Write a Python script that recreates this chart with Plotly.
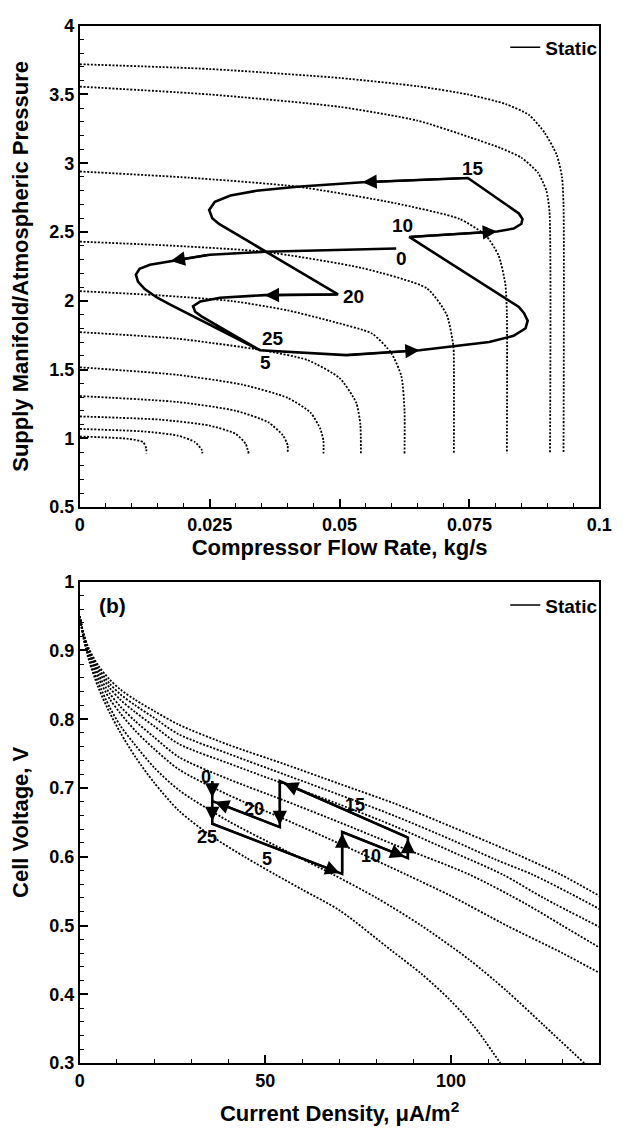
import plotly.graph_objects as go

FONT = "Liberation Sans, Arial, Helvetica, sans-serif"

# ---------------- Panel (a): compressor map ----------------
flow_tick_vals = [0, 0.025, 0.05, 0.075, 0.1]
flow_tick_text = ["0", "0.025", "0.05", "0.075", "0.1"]
pr_tick_vals = [0.5, 1, 1.5, 2, 2.5, 3, 3.5, 4]
pr_tick_text = ["0.5", "1", "1.5", "2", "2.5", "3", "3.5", "4"]

# static compressor speed lines (flow kg/s, pressure ratio)
speed_flow = [
    [0, 0.025, 0.05, 0.065, 0.0747, 0.082, 0.0865, 0.0895, 0.0918, 0.0928, 0.0931, 0.0931],
    [0, 0.025, 0.05, 0.065, 0.075, 0.081, 0.085, 0.0882, 0.0898, 0.0904, 0.0905],
    [0, 0.021, 0.0418, 0.0606, 0.0731, 0.0781, 0.0806, 0.0819, 0.0822, 0.0822],
    [0, 0.018, 0.0356, 0.0544, 0.0668, 0.0706, 0.0719, 0.072, 0.072],
    [0, 0.015, 0.0293, 0.04, 0.048, 0.0563, 0.060, 0.0619, 0.0625, 0.0625],
    [0, 0.0188, 0.035, 0.0438, 0.050, 0.0532, 0.054, 0.0541],
    [0, 0.0188, 0.0313, 0.040, 0.0444, 0.0463, 0.0469, 0.0469],
    [0, 0.0188, 0.030, 0.0363, 0.0391, 0.040, 0.040],
    [0, 0.0156, 0.025, 0.030, 0.0319, 0.0325],
    [0, 0.0125, 0.0188, 0.0222, 0.0235, 0.0236],
    [0, 0.0094, 0.0122, 0.0128, 0.0128],
]
speed_pr = [
    [3.72, 3.685, 3.62, 3.56, 3.50, 3.43, 3.35, 3.22, 3.06, 2.9, 2.7, 0.89],
    [3.557, 3.50, 3.41, 3.31, 3.19, 3.11, 3.04, 2.93, 2.8, 2.65, 0.89],
    [2.94, 2.895, 2.83, 2.71, 2.595, 2.476, 2.33, 2.12, 1.9, 0.89],
    [2.43, 2.40, 2.356, 2.237, 2.09, 1.90, 1.67, 1.5, 0.89],
    [2.07, 2.04, 1.998, 1.93, 1.855, 1.76, 1.617, 1.45, 1.2, 0.89],
    [1.772, 1.724, 1.641, 1.569, 1.438, 1.259, 1.1, 0.89],
    [1.516, 1.461, 1.390, 1.294, 1.187, 1.068, 0.98, 0.89],
    [1.307, 1.264, 1.200, 1.116, 1.021, 0.95, 0.89],
    [1.159, 1.135, 1.092, 1.032, 0.961, 0.89],
    [1.068, 1.049, 1.020, 0.972, 0.913, 0.89],
    [1.013, 0.996, 0.972, 0.925, 0.89],
]

# dynamic trajectory (time 0 -> 25 s)
traj_a_flow = [0.0609, 0.0356, 0.025, 0.0175, 0.0135, 0.0115, 0.0108, 0.0112, 0.0125, 0.0150,
               0.0175, 0.0347, 0.0513, 0.0654, 0.0788, 0.0835, 0.0858, 0.0862, 0.0855, 0.0845,
               0.0634, 0.0803, 0.0835, 0.0850, 0.0852, 0.0845, 0.0832, 0.0747, 0.0544, 0.0418,
               0.0340, 0.0290, 0.0260, 0.0249, 0.0255, 0.0268, 0.0497, 0.0356, 0.0270, 0.0232,
               0.0218, 0.0222, 0.0235, 0.0347]
traj_a_pr = [2.380, 2.356, 2.335, 2.29, 2.262, 2.232, 2.19, 2.14, 2.085, 2.02,
             1.97, 1.64, 1.605, 1.64, 1.70, 1.745, 1.80, 1.855, 1.91, 1.955,
             2.464, 2.504, 2.525, 2.56, 2.595, 2.635, 2.67, 2.893, 2.862, 2.829,
             2.80, 2.765, 2.72, 2.66, 2.60, 2.559, 2.046, 2.041, 2.022, 1.995,
             1.96, 1.92, 1.885, 1.64]
# arrow heads on the trajectory: tip and tail (direction)
arrow_a_tip_flow = [0.0175, 0.0654, 0.0803, 0.0544, 0.0356]
arrow_a_tip_pr = [2.29, 1.64, 2.504, 2.862, 2.041]
arrow_a_tail_flow = [0.025, 0.0513, 0.0634, 0.0747, 0.0497]
arrow_a_tail_pr = [2.335, 1.605, 2.464, 2.893, 2.046]
# time labels
time_labels_a = ["15", "10", "0", "20", "25", "5"]
time_label_a_flow = [0.0756, 0.0622, 0.0619, 0.0527, 0.0372, 0.0358]
time_label_a_pr = [2.965, 2.547, 2.304, 2.034, 1.724, 1.55]

# ---------------- Panel (b): polarization curves ----------------
cd_tick_vals = [0, 50, 100]
cd_tick_text = ["0", "50", "100"]
v_tick_vals = [0.3, 0.4, 0.5, 0.6, 0.7, 0.8, 0.9, 1.0]
v_tick_text = ["0.3", "0.4", "0.5", "0.6", "0.7", "0.8", "0.9", "1"]

pol_current = [
    [0, 1, 2.5, 5, 8, 11, 15, 20, 26.7, 40, 55, 70, 85, 100, 115, 129.6, 140],
    [0, 1, 2.5, 5, 8, 11, 15, 20, 26.7, 40, 55, 70, 85, 100, 112, 122, 132, 140],
    [0, 1, 2.5, 5, 8, 11, 15, 20, 26.7, 40, 55, 70, 85, 100, 114, 125, 140],
    [0, 1, 2.5, 5, 8, 11, 15, 20, 26.7, 40, 55, 70, 85, 105, 120, 130, 140],
    [0, 1, 2.5, 5, 8, 11, 15, 20, 26.7, 40, 55, 70, 88, 100, 115, 130, 140],
    [0, 1, 2.5, 5, 8, 11, 15, 20, 26.7, 40, 55, 68.3, 80, 92, 105, 115, 125, 135.9],
    [0, 1, 2.5, 5, 8, 11, 15, 20, 26.7, 35.5, 45, 52.7, 60, 70, 83.9, 92, 99.5, 106, 113.3],
]
pol_voltage = [
    [0.95, 0.925, 0.902, 0.878, 0.858, 0.843, 0.828, 0.812, 0.792, 0.763, 0.735, 0.706, 0.677, 0.644, 0.61, 0.574, 0.543],
    [0.95, 0.924, 0.90, 0.874, 0.852, 0.836, 0.82, 0.802, 0.778, 0.75, 0.72, 0.69, 0.659, 0.625, 0.596, 0.574, 0.547, 0.524],
    [0.95, 0.923, 0.898, 0.87, 0.846, 0.828, 0.81, 0.79, 0.764, 0.736, 0.706, 0.676, 0.644, 0.608, 0.574, 0.54, 0.498],
    [0.95, 0.922, 0.896, 0.865, 0.838, 0.818, 0.797, 0.774, 0.745, 0.713, 0.682, 0.65, 0.617, 0.574, 0.532, 0.50, 0.468],
    [0.95, 0.921, 0.893, 0.86, 0.83, 0.808, 0.783, 0.757, 0.727, 0.69, 0.655, 0.619, 0.574, 0.543, 0.50, 0.46, 0.431],
    [0.95, 0.919, 0.888, 0.853, 0.818, 0.79, 0.762, 0.73, 0.697, 0.652, 0.61, 0.574, 0.54, 0.50, 0.45, 0.405, 0.355, 0.3],
    [0.95, 0.918, 0.885, 0.846, 0.81, 0.78, 0.745, 0.708, 0.667, 0.63, 0.598, 0.574, 0.552, 0.522, 0.464, 0.43, 0.393, 0.355, 0.3],
]

traj_b_current = [35.7, 35.7, 70.7, 70.7, 88.4, 88.4, 53.9, 53.9, 35.7, 35.7]
traj_b_voltage = [0.710, 0.648, 0.575, 0.636, 0.598, 0.628, 0.710, 0.643, 0.681, 0.648]
arrow_b_tip_current = [35.7, 35.7, 70.0, 70.7, 87.5, 88.4, 55.0, 53.9, 36.4]
arrow_b_tip_voltage = [0.686, 0.652, 0.5765, 0.634, 0.600, 0.626, 0.707, 0.646, 0.680]
arrow_b_tail_current = [35.7, 35.7, 35.7, 70.7, 70.7, 88.4, 88.4, 53.9, 53.9]
arrow_b_tail_voltage = [0.710, 0.675, 0.648, 0.575, 0.636, 0.598, 0.628, 0.710, 0.643]
time_labels_b = ["0", "20", "15", "10", "5", "25"]
time_label_b_current = [34.0, 46.9, 74.2, 78.6, 50.5, 34.4]
time_label_b_voltage = [0.716, 0.670, 0.675, 0.601, 0.596, 0.629]

# ---------------- Figure ----------------
W, H = 625, 1130
fig = go.Figure()

dotted = dict(color="black", width=1.8, dash="2px,1.6px")

for fx, fy in zip(speed_flow, speed_pr):
    fig.add_trace(go.Scatter(x=fx, y=fy, mode="lines", line=dict(shape="spline", smoothing=0.6, **dotted),
                             showlegend=False, hoverinfo="skip", xaxis="x", yaxis="y"))
fig.add_trace(go.Scatter(x=traj_a_flow, y=traj_a_pr, mode="lines", line=dict(color="black", width=2.6),
                         showlegend=False, xaxis="x", yaxis="y"))
fig.add_trace(go.Scatter(x=[None], y=[None], mode="lines", line=dict(color="black", width=1.5),
                         name="Static", legend="legend", xaxis="x", yaxis="y"))

for cx, cy in zip(pol_current, pol_voltage):
    fig.add_trace(go.Scatter(x=cx, y=cy, mode="lines", line=dict(shape="spline", smoothing=0.8, **dotted),
                             showlegend=False, hoverinfo="skip", xaxis="x2", yaxis="y2"))
fig.add_trace(go.Scatter(x=traj_b_current, y=traj_b_voltage, mode="lines", line=dict(color="black", width=2.6),
                         showlegend=False, xaxis="x2", yaxis="y2"))
fig.add_trace(go.Scatter(x=[None], y=[None], mode="lines", line=dict(color="black", width=1.5),
                         name="Static", legend="legend2", xaxis="x2", yaxis="y2"))

annotations = []
lab_font_a = dict(family=FONT, size=19, color="black", weight="bold")
lab_font_b = dict(family=FONT, size=18, color="black", weight="bold")
for tx, ty, ax, ay in zip(arrow_a_tip_flow, arrow_a_tip_pr, arrow_a_tail_flow, arrow_a_tail_pr):
    annotations.append(dict(x=tx, y=ty, ax=ax, ay=ay, xref="x", yref="y", axref="x", ayref="y",
                            text="", showarrow=True, arrowhead=2, arrowsize=1.3, arrowwidth=2.2,
                            arrowcolor="black", standoff=0))
for t, x, y in zip(time_labels_a, time_label_a_flow, time_label_a_pr):
    annotations.append(dict(x=x, y=y, xref="x", yref="y", text=t, showarrow=False, font=lab_font_a))
for tx, ty, ax, ay in zip(arrow_b_tip_current, arrow_b_tip_voltage, arrow_b_tail_current, arrow_b_tail_voltage):
    annotations.append(dict(x=tx, y=ty, ax=ax, ay=ay, xref="x2", yref="y2", axref="x2", ayref="y2",
                            text="", showarrow=True, arrowhead=2, arrowsize=1.3, arrowwidth=2.2,
                            arrowcolor="black", standoff=0))
for t, x, y in zip(time_labels_b, time_label_b_current, time_label_b_voltage):
    annotations.append(dict(x=x, y=y, xref="x2", yref="y2", text=t, showarrow=False, font=lab_font_b))
annotations.append(dict(x=0.034, y=0.951, xref="x2 domain", yref="y2 domain", text="(b)",
                        showarrow=False, xanchor="left", yanchor="middle",
                        font=dict(family=FONT, size=21, color="black", weight="bold")))

tick_font = dict(family=FONT, size=18, color="black", weight="bold")
title_font = dict(family=FONT, size=22, color="black", weight="bold")


def axis_style(**kw):
    d = dict(showline=True, linewidth=2, linecolor="black", mirror=True, ticks="inside", ticklen=8,
             tickwidth=1.6, tickcolor="black", showgrid=False, zeroline=False, tickfont=tick_font,
             tickmode="array", fixedrange=True)
    d.update(kw)
    return d


xdom = [77 / W, 612 / W]
fig.update_layout(
    width=W, height=H, margin=dict(l=0, r=0, t=0, b=0),
    paper_bgcolor="white", plot_bgcolor="white",
    xaxis=axis_style(domain=xdom, range=[0, 0.1], anchor="y", tickvals=flow_tick_vals, ticktext=flow_tick_text,
                     minor=dict(dtick=0.005, tick0=0, ticks="inside", ticklen=4, tickcolor="black", tickwidth=1),
                     title=dict(text="Compressor Flow Rate, kg/s", font=title_font, standoff=6)),
    yaxis=axis_style(domain=[1 - 506 / H, 1 - 16 / H], range=[0.5, 4], anchor="x", tickvals=pr_tick_vals,
                     ticktext=pr_tick_text,
                     minor=dict(dtick=0.1, tick0=0.5, ticks="inside", ticklen=4, tickcolor="black", tickwidth=1),
                     title=dict(text="Supply Manifold/Atmospheric Pressure", font=title_font, standoff=14)),
    xaxis2=axis_style(domain=xdom, range=[0, 140], anchor="y2", tickvals=cd_tick_vals, ticktext=cd_tick_text,
                      minor=dict(dtick=10, tick0=0, ticks="inside", ticklen=4, tickcolor="black", tickwidth=1),
                      title=dict(text="Current Density, \u03bcA/m<sup>2</sup>", font=title_font, standoff=16)),
    yaxis2=axis_style(domain=[1 - 1072 / H, 1 - 582 / H], range=[0.3, 1], anchor="x2", tickvals=v_tick_vals,
                      ticktext=v_tick_text,
                      minor=dict(dtick=0.02, tick0=0.3, ticks="inside", ticklen=4, tickcolor="black", tickwidth=1),
                      title=dict(text="Cell Voltage, V", font=title_font, standoff=14)),
    legend=dict(x=616 / W, y=1 - 38 / H, xanchor="right", yanchor="middle", bgcolor="rgba(0,0,0,0)",
                font=dict(family=FONT, size=19, color="black", weight="bold"), itemwidth=30),
    legend2=dict(x=616 / W, y=1 - 606 / H, xanchor="right", yanchor="middle", bgcolor="rgba(0,0,0,0)",
                 font=dict(family=FONT, size=19, color="black", weight="bold"), itemwidth=30),
    annotations=annotations,
)

fig.write_html("out.html")
